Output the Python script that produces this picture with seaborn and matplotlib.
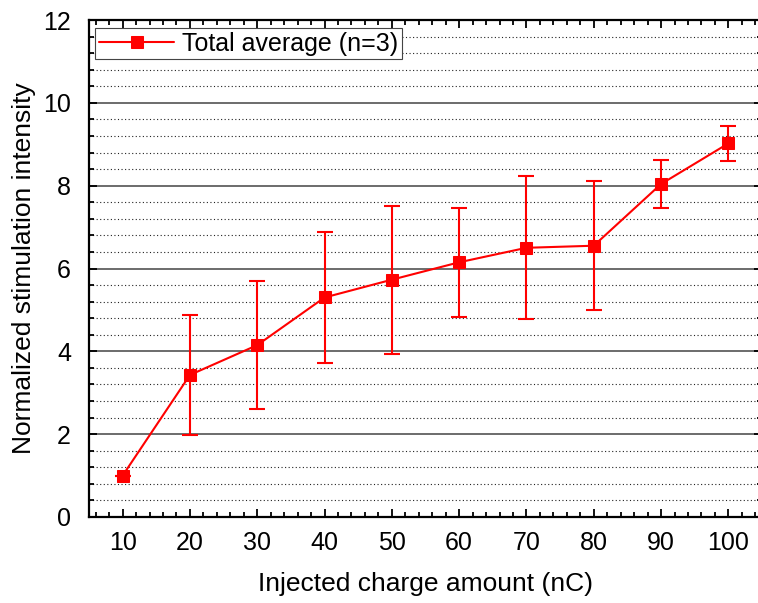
import matplotlib
matplotlib.use("Agg")
import matplotlib.pyplot as plt
from matplotlib.ticker import MultipleLocator
import seaborn as sns
import pandas as pd

# Injected charge (nC) and normalized stimulation intensity (mean ± SD, n=3)
charge = [10, 20, 30, 40, 50, 60, 70, 80, 90, 100]
intensity = [1.00, 3.43, 4.15, 5.30, 5.73, 6.15, 6.50, 6.55, 8.04, 9.02]
intensity_sd = [0.00, 1.44, 1.55, 1.57, 1.79, 1.32, 1.73, 1.56, 0.59, 0.42]
series_label = "Total average (n=3)"

df = pd.DataFrame({"charge": charge, "intensity": intensity, "sd": intensity_sd})

sns.set_style("white")
plt.rcParams["font.family"] = ["Liberation Sans", "DejaVu Sans"]
plt.rcParams["text.color"] = "black"
plt.rcParams["axes.labelcolor"] = "black"
plt.rcParams["xtick.color"] = "black"
plt.rcParams["ytick.color"] = "black"

fig = plt.figure(figsize=(7.58, 6.03), dpi=100)
ax = fig.add_axes([89 / 758, 1 - 517 / 603, (762 - 89) / 758, (517 - 20) / 603])

red = "#ff0000"
ax.errorbar(df["charge"], df["intensity"], yerr=df["sd"], fmt="none",
            ecolor=red, elinewidth=1.5, capsize=5.5, capthick=1.5, zorder=3)
sns.lineplot(data=df, x="charge", y="intensity", ax=ax, color=red,
             marker="s", markersize=8.5, markeredgecolor=red, linewidth=1.5,
             label=series_label, zorder=4)

ax.set_xlim(5, 105)
ax.set_ylim(0, 12)
ax.xaxis.set_major_locator(MultipleLocator(10))
ax.xaxis.set_minor_locator(MultipleLocator(2))
ax.yaxis.set_major_locator(MultipleLocator(2))
ax.yaxis.set_minor_locator(MultipleLocator(0.4))
ax.set_xticks(charge)

ax.grid(False)
ax.yaxis.grid(True, which="major", color="#444444", linewidth=1.1, linestyle="-")
ax.yaxis.grid(True, which="minor", color="#222222", linewidth=0.8,
              linestyle=(0, (1, 2.2)))
ax.set_axisbelow(True)

for s in ax.spines.values():
    s.set_visible(True)
    s.set_color("black")
    s.set_linewidth(1.6)

ax.tick_params(which="both", direction="in", top=True, right=True,
               bottom=True, left=True, color="black", width=1.3)
ax.tick_params(which="major", length=6, labelsize=18, pad=10)
ax.tick_params(which="minor", length=3.5)
ax.tick_params(axis="y", which="major", pad=13)

ax.set_xlabel("Injected charge amount (nC)", fontsize=19, labelpad=12)
ax.set_ylabel("Normalized stimulation intensity", fontsize=19, labelpad=5)

leg = ax.legend(loc="upper left", bbox_to_anchor=(0.0095, 0.984), fontsize=18,
                frameon=True, fancybox=False, edgecolor="#444444",
                framealpha=1, borderpad=0.15, handlelength=3.0,
                handletextpad=0.3, borderaxespad=0)
leg.get_frame().set_linewidth(0.8)

fig.savefig("out.png", dpi=100)
